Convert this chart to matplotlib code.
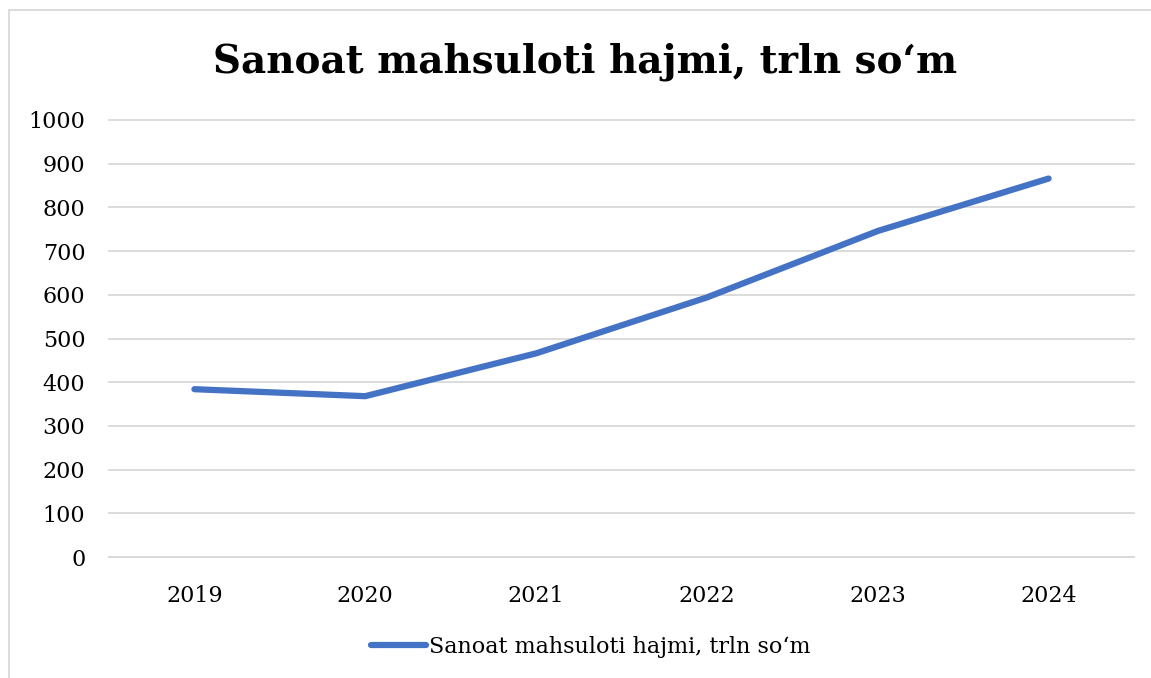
import matplotlib
matplotlib.use("Agg")
import matplotlib.pyplot as plt
from matplotlib.patches import Rectangle

years = ["2019", "2020", "2021", "2022", "2023", "2024"]
values = [384, 368, 466, 594, 746, 866]
yticks = list(range(0, 1001, 100))

plt.rcParams['font.family'] = ['DejaVu Serif']

fig = plt.figure(figsize=(11.51, 6.78), dpi=100)
ax = fig.add_axes([109/1151, 1 - 557/678, (1134-109)/1151, (557-120)/678])

ax.plot(range(len(years)), values, color="#4472C4", lw=4.5, solid_capstyle="round",
        solid_joinstyle="round", label="Sanoat mahsuloti hajmi, trln so\u2018m")
ax.set_xlim(-0.5, len(years) - 0.5)
ax.set_ylim(0, 1000)
ax.set_yticks(yticks)
ax.set_xticks(range(len(years)))
ax.set_xticklabels(years)
ax.grid(axis="y", color="#d9d9d9", lw=1.3)
for gl in ax.get_ygridlines():
    gl.set_clip_on(False)
ax.set_axisbelow(True)
for s in ["top", "right", "left"]:
    ax.spines[s].set_visible(False)
ax.spines["bottom"].set_color("#d9d9d9")
ax.spines["bottom"].set_linewidth(1.3)
ax.tick_params(length=0, labelsize=16, colors="#000000")
ax.tick_params(axis="y", pad=17)
ax.tick_params(axis="x", pad=20)

fig.text(0.508, 1 - 62/678, "Sanoat mahsuloti hajmi, trln so\u2018m", ha="center", va="center",
         fontsize=28, fontweight="bold")

fig.legend(loc="center", bbox_to_anchor=(0.513, 1 - 647/678), frameon=False, fontsize=16,
           handlelength=2.5, handletextpad=0.1)

# chart frame
fig.patches.append(Rectangle((9/1151, -0.01), 1.1, 1 - 10/678 + 0.01, transform=fig.transFigure,
                             fill=False, ec="#d9d9d9", lw=1.3))

fig.savefig("out.png", dpi=100)
